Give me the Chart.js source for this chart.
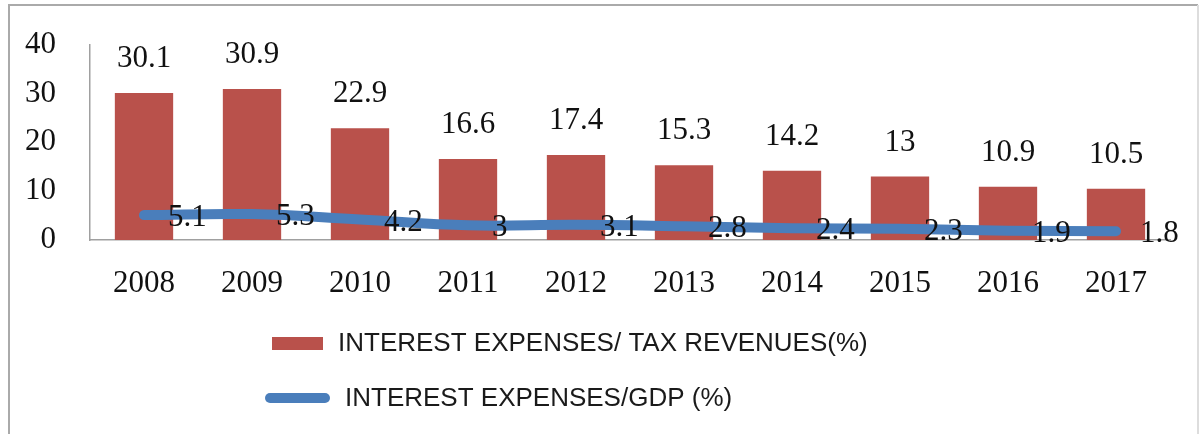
<!DOCTYPE html>
<html>
<head>
<meta charset="utf-8">
<script src="https://cdn.jsdelivr.net/npm/chart.js@4/dist/chart.umd.min.js"></script>
<style>
  html, body { margin: 0; padding: 0; background: #fff; }
  #wrap { width: 1200px; height: 434px; }
</style>
</head>
<body>
<div id="wrap"><canvas id="myChart" width="1200" height="434"></canvas></div>
<script>
const years = ['2008', '2009', '2010', '2011', '2012', '2013', '2014', '2015', '2016', '2017'];
const taxRatio = [30.1, 30.9, 22.9, 16.6, 17.4, 15.3, 14.2, 13, 10.9, 10.5];
const gdpRatio = [5.1, 5.3, 4.2, 3, 3.1, 2.8, 2.4, 2.3, 1.9, 1.8];
const seriesNames = ['INTEREST EXPENSES/ TAX REVENUES(%)', 'INTEREST EXPENSES/GDP (%)'];

const serif = '"Liberation Serif", "Times New Roman", serif';
const sans = '"Liberation Sans", Arial, sans-serif';
const barColor = '#b9514b';
const lineColor = '#4a7ebb';

// frame round the whole chart
const framePlugin = {
    id: 'frame',
    beforeDraw(chart) {
        const ctx = chart.ctx;
        ctx.save();
        ctx.strokeStyle = '#aaaaaa';
        ctx.lineWidth = 2;
        ctx.beginPath();
        ctx.moveTo(9, 440);
        ctx.lineTo(9, 5);
        ctx.lineTo(1198, 5);
        ctx.stroke();
        ctx.strokeStyle = '#dddddd';
        ctx.beginPath();
        ctx.moveTo(1198, 5);
        ctx.lineTo(1198, 440);
        ctx.stroke();
        ctx.restore();
    }
};

// value labels: above the bars, right of the line points
const valueLabels = {
    id: 'valueLabels',
    afterDatasetsDraw(chart) {
        const ctx = chart.ctx;
        ctx.save();
        ctx.font = '31px ' + serif;
        ctx.fillStyle = '#111';
        chart.getDatasetMeta(0).data.forEach((bar, i) => {
            ctx.textAlign = 'center';
            ctx.textBaseline = 'middle';
            ctx.fillText(String(taxRatio[i]), bar.x, bar.y - 34);
        });
        chart.getDatasetMeta(1).data.forEach((pt, i) => {
            ctx.textAlign = 'left';
            ctx.textBaseline = 'middle';
            ctx.fillText(String(gdpRatio[i]), pt.x + 24, pt.y + 3);
        });
        ctx.restore();
    }
};

// stacked legend under the axis
const stackedLegend = {
    id: 'stackedLegend',
    afterDraw(chart) {
        const ctx = chart.ctx;
        const ds = chart.data.datasets;
        ctx.save();
        ctx.font = '26px ' + sans;
        ctx.textBaseline = 'middle';
        ctx.textAlign = 'left';

        ctx.fillStyle = ds[0].backgroundColor;
        ctx.fillRect(272, 337, 51, 13);
        ctx.fillStyle = '#1a1a1a';
        ctx.fillText(ds[0].label, 338, 344);

        ctx.strokeStyle = ds[1].borderColor;
        ctx.lineWidth = 10;
        ctx.lineCap = 'round';
        ctx.beginPath();
        ctx.moveTo(270, 398);
        ctx.lineTo(325, 398);
        ctx.stroke();
        ctx.fillText(ds[1].label, 345, 399);
        ctx.restore();
    }
};

const ctx = document.getElementById('myChart').getContext('2d');
new Chart(ctx, {
    type: 'bar',
    data: {
        labels: years,
        datasets: [
            {
                label: seriesNames[0],
                data: taxRatio,
                backgroundColor: barColor,
                barPercentage: 0.54,
                categoryPercentage: 1,
                order: 1
            },
            {
                type: 'line',
                label: seriesNames[1],
                data: gdpRatio,
                borderColor: lineColor,
                backgroundColor: lineColor,
                borderWidth: 10,
                pointRadius: 0,
                tension: 0.4,
                borderCapStyle: 'round',
                order: 0
            }
        ]
    },
    options: {
        responsive: false,
        animation: false,
        layout: { padding: { left: 12, right: 30, top: 39, bottom: 114 } },
        plugins: {
            legend: { display: false },
            tooltip: { enabled: false }
        },
        scales: {
            x: {
                grid: { display: false },
                border: { display: true, color: '#a0a0a0', width: 1.5 },
                ticks: { color: '#111', font: { family: serif, size: 31 }, padding: 17, maxRotation: 0 },
                afterFit: s => { s.height = 80; }
            },
            y: {
                min: 0,
                max: 40,
                grid: { display: false },
                border: { display: true, color: '#a0a0a0', width: 1.5 },
                ticks: { color: '#111', stepSize: 10, font: { family: serif, size: 31 }, padding: 26 },
                afterFit: s => { s.width = 78; }
            }
        }
    },
    plugins: [framePlugin, valueLabels, stackedLegend]
});
</script>
</body>
</html>
